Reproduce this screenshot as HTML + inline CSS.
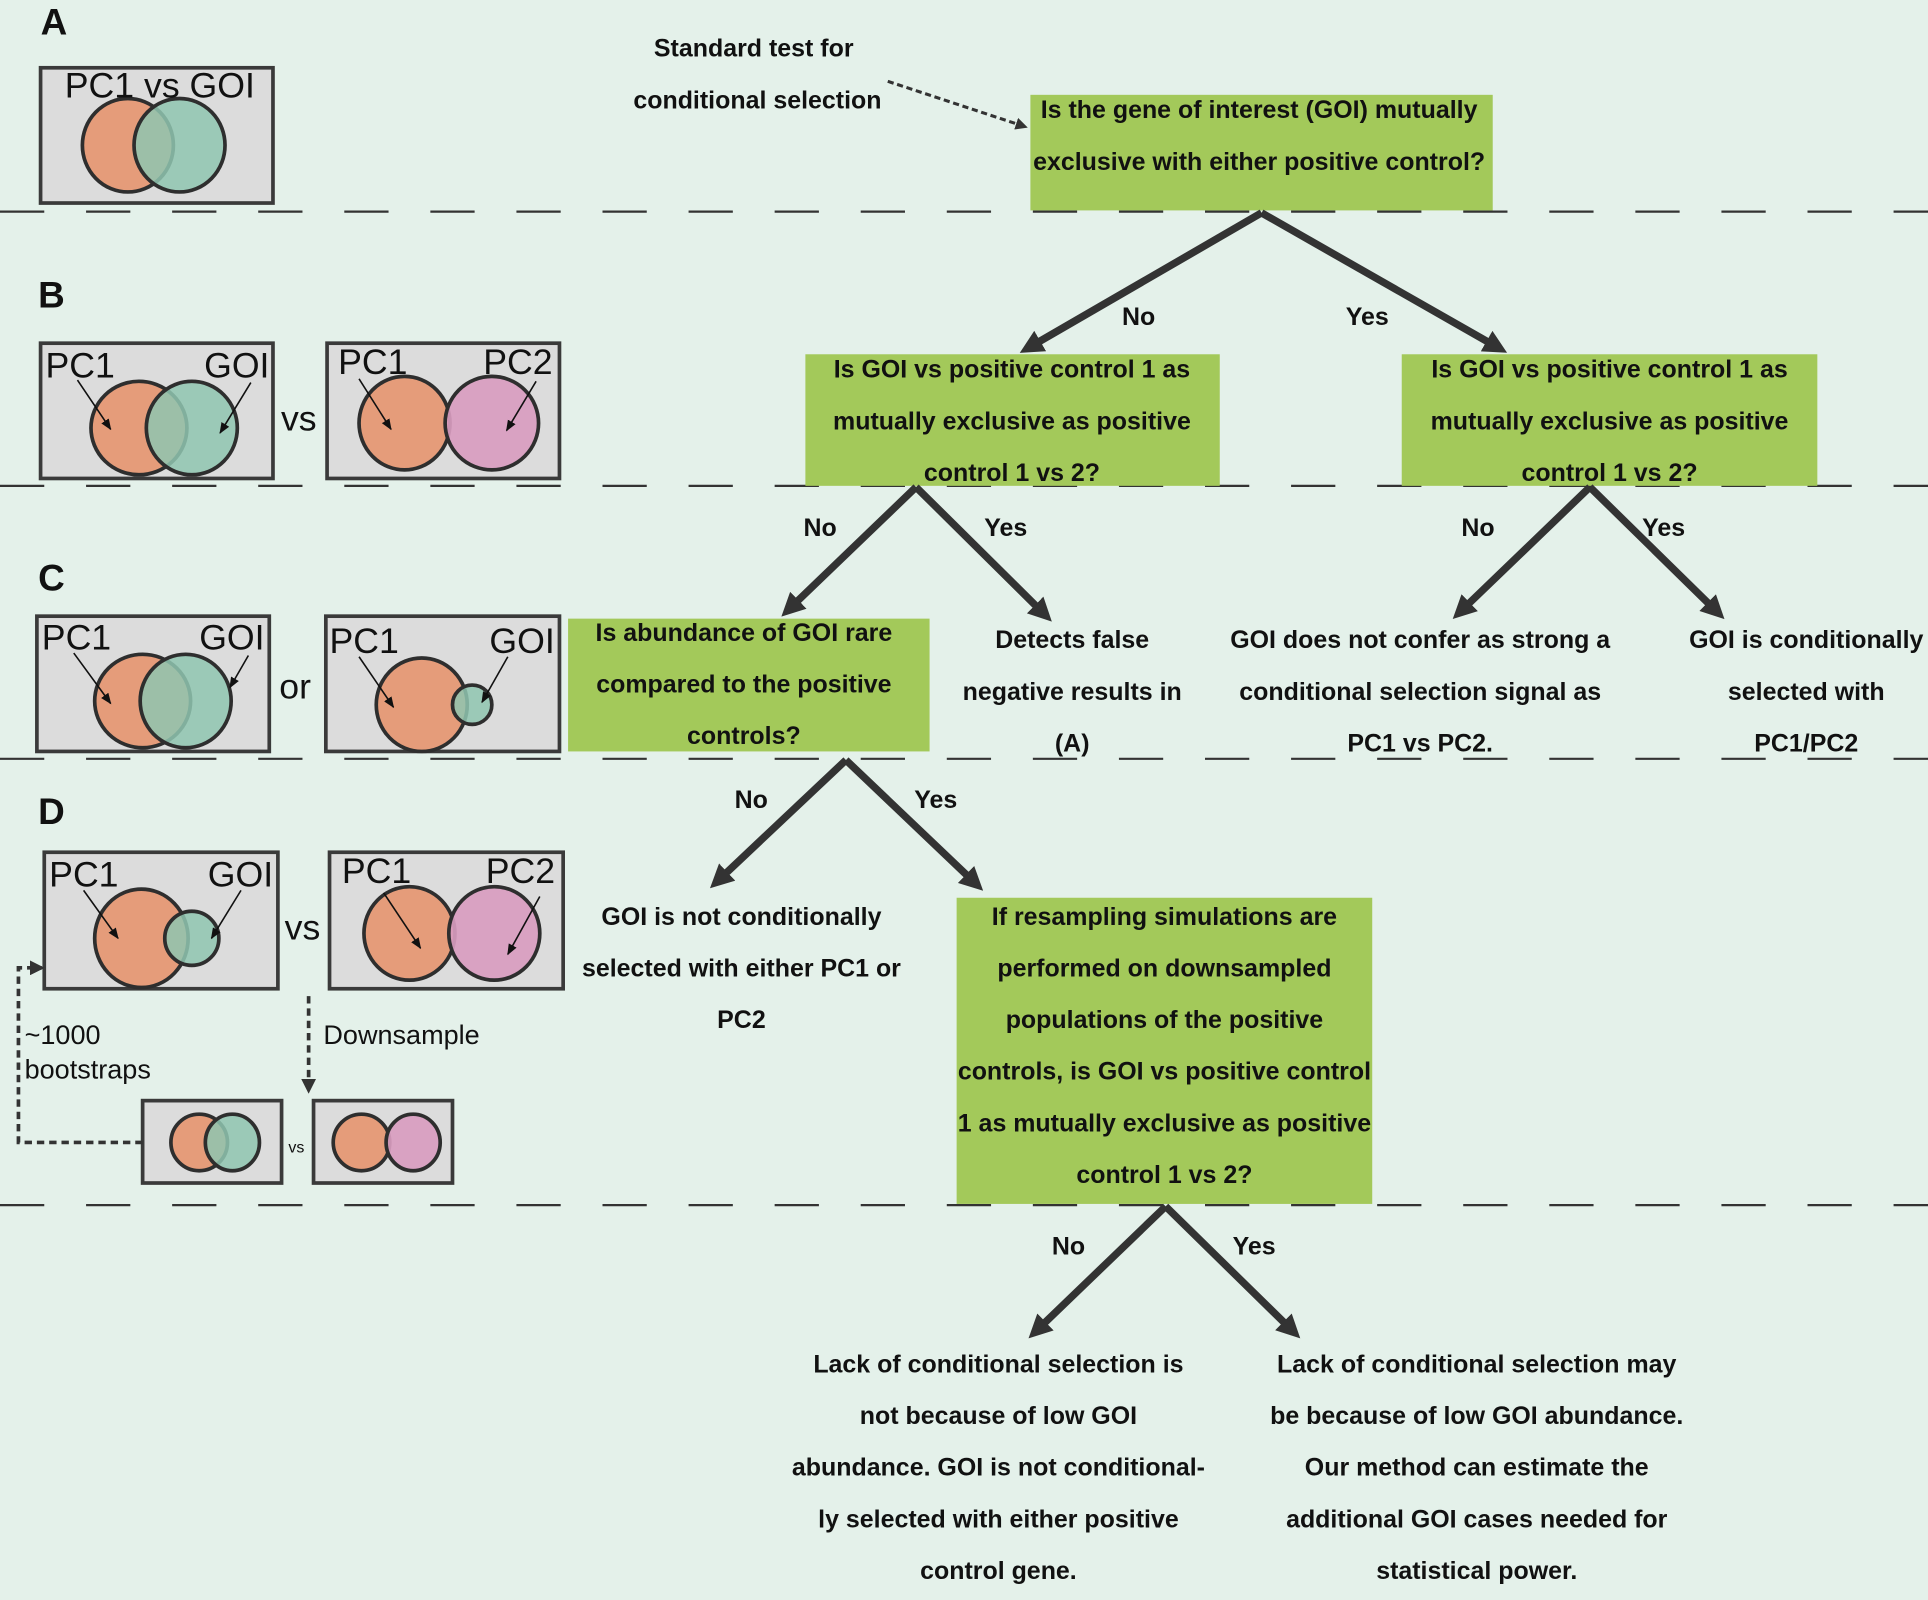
<!DOCTYPE html>
<html><head><meta charset="utf-8"><style>
html,body{margin:0;padding:0;background:#e4f1ea;}
svg{display:block;}
text{font-family:"Liberation Sans",Arial,sans-serif;}
.q{font-weight:bold;font-size:20.3px;text-anchor:middle;fill:#111;}
.v{font-size:29px;fill:#111;}
.L{font-weight:bold;font-size:30px;fill:#111;}
.bx{fill:#dcdcdc;stroke:#3a3a3a;stroke-width:3;}
.o{fill:#e59c7a;stroke:#2e2e2e;stroke-width:3;}
.t{fill:#8fc6b0;fill-opacity:.85;stroke:#2e2e2e;stroke-width:3;}
.p{fill:#d89cbf;fill-opacity:.92;stroke:#2e2e2e;stroke-width:3;}
.th{stroke:#333;stroke-width:6;fill:none;marker-end:url(#ah);}
.sa{stroke:#111;stroke-width:1.3;marker-end:url(#sh);}
.g{fill:#a3c95a;}
</style></head><body>
<svg width="1928" height="1600" viewBox="0 0 1568 1301" xmlns="http://www.w3.org/2000/svg">
<defs>
<marker id="ah" viewBox="0 0 10 10" refX="6" refY="5" markerWidth="3.2" markerHeight="3.2" orient="auto"><path d="M0,0 L10,5 L0,10 z" fill="#333"/></marker>
<marker id="sh" viewBox="0 0 10 10" refX="9" refY="5" markerWidth="7" markerHeight="7" orient="auto"><path d="M0,1 L10,5 L0,9 z" fill="#111"/></marker>
<marker id="dh" viewBox="0 0 10 10" refX="8" refY="5" markerWidth="4" markerHeight="4" orient="auto"><path d="M0,0 L10,5 L0,10 z" fill="#333"/></marker>
</defs>
<rect width="1568" height="1301" fill="#e4f1ea"/>
<g stroke="#333" stroke-width="1.8" stroke-dasharray="36 34">
<line x1="0" y1="172" x2="1568" y2="172"/><line x1="0" y1="395" x2="1568" y2="395"/>
<line x1="0" y1="617" x2="1568" y2="617"/><line x1="0" y1="980" x2="1568" y2="980"/>
</g>
<text class="L" x="33" y="28">A</text><text class="L" x="31" y="250">B</text>
<text class="L" x="31" y="480">C</text><text class="L" x="31" y="670">D</text>

<!-- A -->
<rect class="bx" x="33" y="55" width="189" height="110"/>
<ellipse class="o" cx="104" cy="118" rx="37" ry="38"/><ellipse class="t" cx="146" cy="118" rx="37" ry="38"/>
<text class="v" x="130" y="79" text-anchor="middle">PC1 vs GOI</text>
<!-- B -->
<rect class="bx" x="33" y="279" width="189" height="110"/>
<ellipse class="o" cx="113" cy="348" rx="39" ry="38"/><ellipse class="t" cx="156" cy="348" rx="37" ry="38"/>
<text class="v" x="37" y="307">PC1</text><text class="v" x="166" y="307">GOI</text>
<line class="sa" x1="63" y1="309" x2="90" y2="349"/><line class="sa" x1="204" y1="311" x2="179" y2="352"/>
<text class="v" x="243" y="350" text-anchor="middle">vs</text>
<rect class="bx" x="266" y="279" width="189" height="110"/>
<ellipse class="o" cx="329" cy="344" rx="37" ry="38"/><ellipse class="p" cx="400" cy="344" rx="38" ry="38"/>
<text class="v" x="275" y="304">PC1</text><text class="v" x="393" y="304">PC2</text>
<line class="sa" x1="292" y1="308" x2="318" y2="349"/><line class="sa" x1="436" y1="310" x2="412" y2="350"/>
<!-- C -->
<rect class="bx" x="30" y="501" width="189" height="110"/>
<ellipse class="o" cx="116" cy="570" rx="39" ry="38"/><ellipse class="t" cx="151" cy="570" rx="37" ry="38"/>
<text class="v" x="34" y="528">PC1</text><text class="v" x="162" y="528">GOI</text>
<line class="sa" x1="60" y1="531" x2="90" y2="572"/><line class="sa" x1="202" y1="533" x2="187" y2="559"/>
<text class="v" x="240" y="568" text-anchor="middle">or</text>
<rect class="bx" x="265" y="501" width="190" height="110"/>
<ellipse class="o" cx="343" cy="573" rx="37" ry="38"/><ellipse class="t" cx="384" cy="573" rx="16" ry="16"/>
<text class="v" x="268" y="531">PC1</text><text class="v" x="398" y="531">GOI</text>
<line class="sa" x1="292" y1="534" x2="320" y2="575"/><line class="sa" x1="413" y1="534" x2="392" y2="571"/>
<!-- D -->
<rect class="bx" x="36" y="693" width="190" height="111"/>
<ellipse class="o" cx="115" cy="763" rx="38" ry="40"/><ellipse class="t" cx="156" cy="763" rx="22" ry="22"/>
<text class="v" x="40" y="721">PC1</text><text class="v" x="169" y="721">GOI</text>
<line class="sa" x1="68" y1="724" x2="96" y2="763"/><line class="sa" x1="196" y1="724" x2="172" y2="763"/>
<text class="v" x="246" y="764" text-anchor="middle">vs</text>
<rect class="bx" x="268" y="693" width="190" height="111"/>
<ellipse class="o" cx="333" cy="759" rx="37" ry="38"/><ellipse class="p" cx="402" cy="759" rx="37" ry="38"/>
<text class="v" x="278" y="718">PC1</text><text class="v" x="395" y="718">PC2</text>
<line class="sa" x1="312" y1="726" x2="342" y2="771"/><line class="sa" x1="439" y1="729" x2="413" y2="776"/>
<rect class="bx" x="116" y="895" width="113" height="67"/>
<ellipse class="o" cx="162" cy="929" rx="23" ry="23"/><ellipse class="t" cx="189" cy="929" rx="22" ry="23"/>
<text x="241" y="937" font-size="13" text-anchor="middle" fill="#111">vs</text>
<rect class="bx" x="255" y="895" width="113" height="67"/>
<ellipse class="o" cx="294" cy="929" rx="23" ry="23"/><ellipse class="p" cx="336" cy="929" rx="22" ry="23"/>
<path d="M116,929 H15 V787 H34" stroke="#333" stroke-width="3" fill="none" stroke-dasharray="6 4" marker-end="url(#dh)"/>
<path d="M251,810 V887" stroke="#333" stroke-width="3" fill="none" stroke-dasharray="6 4" marker-end="url(#dh)"/>
<text x="20" y="849" font-size="22" fill="#111">~1000</text>
<text x="20" y="877" font-size="22" fill="#111">bootstraps</text>
<text x="263" y="849" font-size="22" fill="#111">Downsample</text>

<!-- flowchart -->
<text class="q" x="613" y="46">Standard test for</text>
<text class="q" x="616" y="88">conditional selection</text>
<path d="M722,66 L834,103" stroke="#333" stroke-width="2.5" stroke-dasharray="5 3" marker-end="url(#dh)"/>
<rect class="g" x="838" y="77" width="376" height="94"/>
<text class="q" x="1024" y="96">Is the gene of interest (GOI) mutually</text>
<text class="q" x="1024" y="138">exclusive with either positive control?</text>

<line class="th" x1="1026" y1="173" x2="836" y2="283"/><line class="th" x1="1026" y1="173" x2="1219" y2="283"/>
<text class="q" x="926" y="264">No</text><text class="q" x="1112" y="264">Yes</text>

<rect class="g" x="655" y="288" width="337" height="107"/>
<text class="q" x="823" y="307">Is GOI vs positive control 1 as</text>
<text class="q" x="823" y="349">mutually exclusive as positive</text>
<text class="q" x="823" y="391">control 1 vs 2?</text>
<rect class="g" x="1140" y="288" width="338" height="107"/>
<text class="q" x="1309" y="307">Is GOI vs positive control 1 as</text>
<text class="q" x="1309" y="349">mutually exclusive as positive</text>
<text class="q" x="1309" y="391">control 1 vs 2?</text>

<line class="th" x1="745" y1="396" x2="641" y2="496"/><line class="th" x1="745" y1="396" x2="850" y2="500"/>
<text class="q" x="667" y="436">No</text><text class="q" x="818" y="436">Yes</text>
<line class="th" x1="1293" y1="396" x2="1187" y2="498"/><line class="th" x1="1293" y1="396" x2="1397" y2="498"/>
<text class="q" x="1202" y="436">No</text><text class="q" x="1353" y="436">Yes</text>

<rect class="g" x="462" y="503" width="294" height="108"/>
<text class="q" x="605" y="521">Is abundance of GOI rare</text>
<text class="q" x="605" y="563">compared to the positive</text>
<text class="q" x="605" y="605">controls?</text>
<text class="q" x="872" y="527">Detects false</text>
<text class="q" x="872" y="569">negative results in</text>
<text class="q" x="872" y="611">(A)</text>
<text class="q" x="1155" y="527">GOI does not confer as strong a</text>
<text class="q" x="1155" y="569">conditional selection signal as</text>
<text class="q" x="1155" y="611">PC1 vs PC2.</text>
<text class="q" x="1469" y="527">GOI is conditionally</text>
<text class="q" x="1469" y="569">selected with</text>
<text class="q" x="1469" y="611">PC1/PC2</text>

<line class="th" x1="688" y1="618" x2="583" y2="717"/><line class="th" x1="688" y1="618" x2="794" y2="719"/>
<text class="q" x="611" y="657">No</text><text class="q" x="761" y="657">Yes</text>
<text class="q" x="603" y="752">GOI is not conditionally</text>
<text class="q" x="603" y="794">selected with either PC1 or</text>
<text class="q" x="603" y="836">PC2</text>

<rect class="g" x="778" y="730" width="338" height="249"/>
<text class="q" x="947" y="752">If resampling simulations are</text>
<text class="q" x="947" y="794">performed on downsampled</text>
<text class="q" x="947" y="836">populations of the positive</text>
<text class="q" x="947" y="878">controls, is GOI vs positive control</text>
<text class="q" x="947" y="920">1 as mutually exclusive as positive</text>
<text class="q" x="947" y="962">control 1 vs 2?</text>

<line class="th" x1="948" y1="981" x2="842" y2="1083"/><line class="th" x1="948" y1="981" x2="1052" y2="1083"/>
<text class="q" x="869" y="1020">No</text><text class="q" x="1020" y="1020">Yes</text>
<text class="q" x="812" y="1116">Lack of conditional selection is</text>
<text class="q" x="812" y="1158">not because of low GOI</text>
<text class="q" x="812" y="1200">abundance. GOI is not conditional-</text>
<text class="q" x="812" y="1242">ly selected with either positive</text>
<text class="q" x="812" y="1284">control gene.</text>
<text class="q" x="1201" y="1116">Lack of conditional selection may</text>
<text class="q" x="1201" y="1158">be because of low GOI abundance.</text>
<text class="q" x="1201" y="1200">Our method can estimate the</text>
<text class="q" x="1201" y="1242">additional GOI cases needed for</text>
<text class="q" x="1201" y="1284">statistical power.</text>
</svg>
</body></html>
